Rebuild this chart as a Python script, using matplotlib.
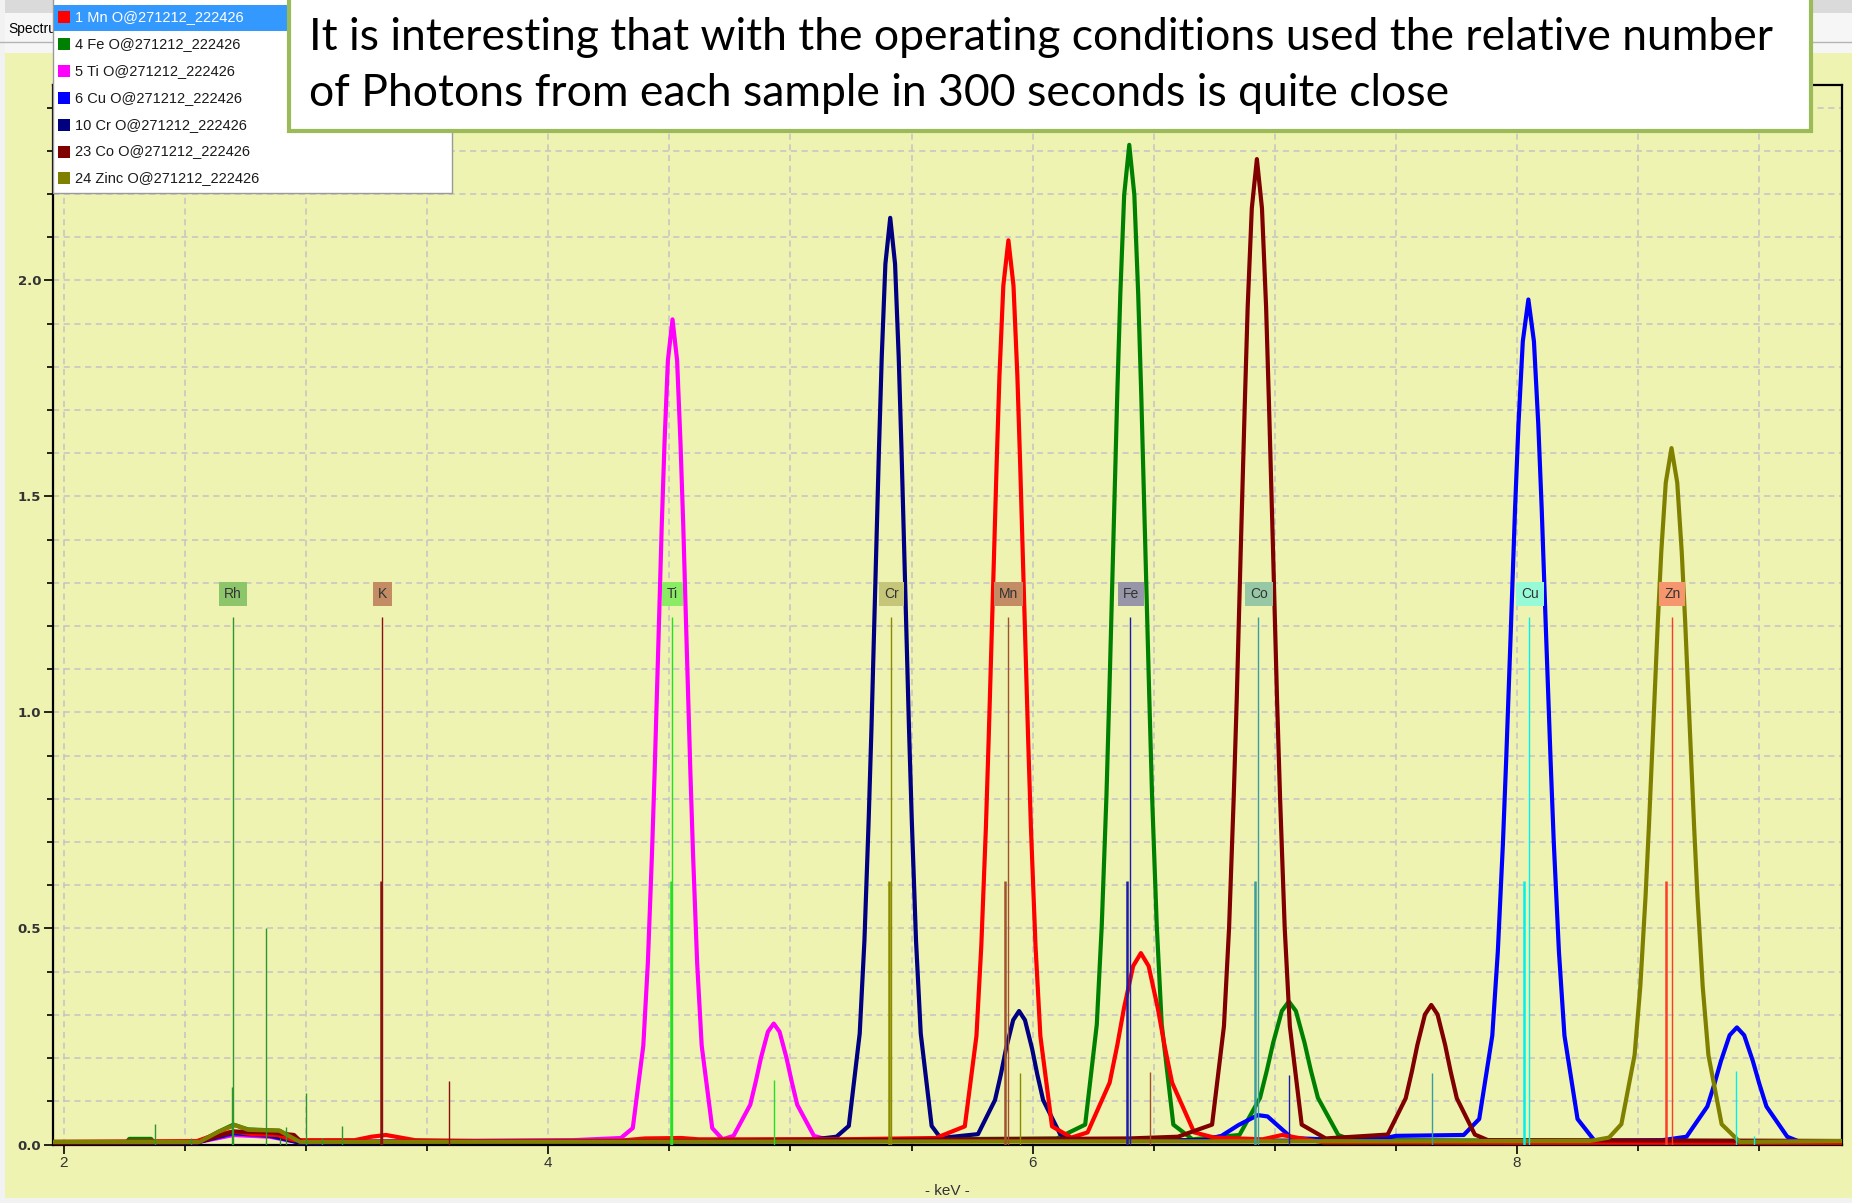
import matplotlib
matplotlib.use("Agg")
import matplotlib.pyplot as plt
from matplotlib.patches import Rectangle
from matplotlib.ticker import MultipleLocator, FormatStrFormatter

W, H = 1852, 1203

# ---- spectra (keV, counts) ----
mn_kev = [1.96, 2.55, 2.62, 2.70, 2.78, 2.88, 2.95, 3.20, 3.27, 3.33, 3.39, 3.45, 3.70, 4.30, 4.40, 4.55, 4.62, 5.20, 5.60,
          5.720, 5.768, 5.7881, 5.807, 5.8187, 5.835, 5.8512, 5.863, 5.879, 5.900,
          5.921, 5.937, 5.9488, 5.965, 5.9813, 5.993, 6.0119, 6.032, 6.080,
          6.160,
          6.227, 6.318, 6.3493, 6.377, 6.415, 6.447, 6.479, 6.517, 6.5447, 6.576, 6.667,
          6.750, 6.950, 7.030, 7.110, 7.200, 8.000, 9.340]
mn_cps = [0.006, 0.008, 0.022, 0.030, 0.024, 0.022, 0.010, 0.010, 0.018, 0.022, 0.016, 0.010, 0.008, 0.009, 0.014, 0.015, 0.012, 0.012, 0.015,
          0.042, 0.251, 0.460, 0.733, 0.942, 1.256, 1.570, 1.779, 1.988, 2.093,
          1.988, 1.779, 1.570, 1.256, 0.942, 0.733, 0.460, 0.251, 0.042,
          0.016,
          0.028, 0.143, 0.229, 0.315, 0.413, 0.443, 0.413, 0.315, 0.229, 0.143, 0.028,
          0.016, 0.012, 0.022, 0.014, 0.005, 0.004, 0.004]

fe_kev = [1.96, 2.26, 2.27, 2.36, 2.37, 2.56, 2.64, 2.70, 2.76, 2.89, 2.975, 3.50, 5.50, 6.10,
          6.217, 6.265, 6.2856, 6.305, 6.3166, 6.333, 6.3495, 6.362, 6.378, 6.399,
          6.420, 6.436, 6.4485, 6.465, 6.4814, 6.493, 6.5124, 6.533, 6.581,
          6.660,
          6.854, 6.939, 6.9674, 6.993, 7.029, 7.058, 7.087, 7.123, 7.1486, 7.178, 7.262,
          7.320, 9.340]
fe_cps = [0.006, 0.006, 0.013, 0.013, 0.006, 0.006, 0.030, 0.046, 0.035, 0.032, 0.006, 0.007, 0.012, 0.014,
          0.046, 0.278, 0.509, 0.810, 1.041, 1.388, 1.736, 1.967, 2.198, 2.314,
          2.198, 1.967, 1.736, 1.388, 1.041, 0.810, 0.509, 0.278, 0.046,
          0.012,
          0.022, 0.108, 0.172, 0.235, 0.309, 0.331, 0.309, 0.235, 0.172, 0.108, 0.022,
          0.010, 0.008]

ti_kev = [1.96, 2.55, 2.70, 2.85, 2.97, 3.50, 4.10, 4.30,
          4.349, 4.3925, 4.4112, 4.428, 4.4391, 4.454, 4.4686, 4.480, 4.494, 4.513,
          4.532, 4.546, 4.5574, 4.572, 4.5869, 4.598, 4.6148, 4.6335, 4.677,
          4.720,
          4.765, 4.834, 4.857, 4.878, 4.907, 4.931, 4.955, 4.984, 5.005, 5.028, 5.097,
          5.160, 6.00, 9.34]
ti_cps = [0.004, 0.005, 0.022, 0.018, 0.005, 0.008, 0.010, 0.015,
          0.038, 0.229, 0.420, 0.669, 0.860, 1.146, 1.433, 1.624, 1.815, 1.910,
          1.815, 1.624, 1.433, 1.146, 0.860, 0.669, 0.420, 0.229, 0.038,
          0.012,
          0.020, 0.092, 0.146, 0.200, 0.261, 0.280, 0.261, 0.200, 0.146, 0.092, 0.020,
          0.010, 0.008, 0.008]

cu_kev = [1.96, 2.55, 2.70, 2.85, 2.97, 5.50, 6.70, 6.78, 6.85, 6.93, 6.97, 7.02, 7.07, 7.20, 7.45, 7.50, 7.78,
          7.844, 7.898, 7.9208, 7.942, 7.9554, 7.974, 7.992, 8.006, 8.024, 8.047,
          8.070, 8.088, 8.102, 8.120, 8.1386, 8.152, 8.1732, 8.196, 8.250,
          8.320, 8.600,
          8.700, 8.786, 8.8156, 8.842, 8.878, 8.908, 8.938, 8.974, 9.0004, 9.030, 9.116,
          9.160, 9.340]
cu_cps = [0.004, 0.005, 0.026, 0.020, 0.005, 0.008, 0.010, 0.020, 0.045, 0.068, 0.065, 0.040, 0.015, 0.012, 0.014, 0.020, 0.022,
          0.059, 0.252, 0.446, 0.698, 0.891, 1.182, 1.472, 1.666, 1.859, 1.956,
          1.859, 1.666, 1.472, 1.182, 0.891, 0.698, 0.446, 0.252, 0.059,
          0.009, 0.010,
          0.018, 0.088, 0.141, 0.193, 0.253, 0.271, 0.253, 0.193, 0.141, 0.088, 0.018,
          0.008, 0.006]

cr_kev = [1.96, 2.55, 2.70, 2.85, 2.97, 4.50, 5.10, 5.19,
          5.241, 5.286, 5.3055, 5.323, 5.3346, 5.350, 5.3655, 5.377, 5.392, 5.412,
          5.432, 5.447, 5.4585, 5.474, 5.4894, 5.501, 5.5185, 5.538, 5.583,
          5.620,
          5.7745, 5.8447, 5.8687, 5.8899, 5.9196, 5.944, 5.9684, 5.9981, 6.0193, 6.0433, 6.1135,
          6.170, 9.34]
cr_cps = [0.004, 0.005, 0.028, 0.022, 0.005, 0.008, 0.012, 0.018,
          0.043, 0.257, 0.472, 0.751, 0.965, 1.287, 1.609, 1.823, 2.038, 2.145,
          2.038, 1.823, 1.609, 1.287, 0.965, 0.751, 0.472, 0.257, 0.043,
          0.015,
          0.024, 0.103, 0.162, 0.221, 0.288, 0.309, 0.288, 0.221, 0.162, 0.103, 0.024,
          0.010, 0.006]

co_kev = [1.96, 2.55, 2.70, 2.85, 2.95, 2.98, 4.50, 6.40, 6.60,
          6.741, 6.790, 6.8112, 6.830, 6.8426, 6.859, 6.8759, 6.888, 6.905, 6.926,
          6.947, 6.964, 6.9761, 6.993, 7.0094, 7.022, 7.0408, 7.062, 7.111,
          7.210,
          7.466, 7.5405, 7.566, 7.5885, 7.620, 7.646, 7.672, 7.7035, 7.726, 7.7515, 7.826,
          7.880, 9.34]
co_cps = [0.004, 0.005, 0.030, 0.028, 0.022, 0.006, 0.008, 0.014, 0.018,
          0.046, 0.274, 0.502, 0.798, 1.026, 1.369, 1.711, 1.939, 2.167, 2.281,
          2.167, 1.939, 1.711, 1.369, 1.026, 0.798, 0.502, 0.274, 0.046,
          0.014,
          0.023, 0.107, 0.169, 0.230, 0.301, 0.323, 0.301, 0.230, 0.169, 0.107, 0.023,
          0.010, 0.008]

zn_kev = [1.96, 2.56, 2.64, 2.707, 2.76, 2.89, 2.975, 8.30, 8.38,
          8.431, 8.4856, 8.5092, 8.5308, 8.5445, 8.5632, 8.5818, 8.5958, 8.6143, 8.638,
          8.6617, 8.6802, 8.6942, 8.7128, 8.7315, 8.7452, 8.7668, 8.7904, 8.845,
          8.920, 9.34]
zn_cps = [0.006, 0.006, 0.030, 0.045, 0.034, 0.032, 0.006, 0.008, 0.016,
          0.047, 0.207, 0.366, 0.574, 0.734, 0.973, 1.213, 1.372, 1.532, 1.612,
          1.532, 1.372, 1.213, 0.973, 0.734, 0.574, 0.366, 0.207, 0.047,
          0.006, 0.008]

legend_labels = ["1 Mn O@271212_222426", "4 Fe O@271212_222426", "5 Ti O@271212_222426",
                 "6 Cu O@271212_222426", "10 Cr O@271212_222426", "23 Co O@271212_222426",
                 "24 Zinc O@271212_222426"]

# element marker lines (keV, relative height)
marker_elem = ["Rh"] * 10 + ["K"] * 3 + ["Ti"] * 3 + ["Cr"] * 3 + ["Mn"] * 3 + ["Fe"] * 3 + ["Co"] * 3 + ["Cu"] * 4 + ["Zn"] * 2
marker_kev = [2.376, 2.524, 2.693, 2.697, 2.834, 2.891, 2.917, 3.001, 3.066, 3.149,
              3.314, 3.311, 3.590,
              4.511, 4.505, 4.933,
              5.415, 5.405, 5.946,
              5.899, 5.887, 6.486,
              6.404, 6.391, 7.058,
              6.930, 6.917, 7.649,
              8.051, 8.030, 8.906, 8.977,
              8.638, 8.615]
marker_cps = [0.047, 0.015, 0.133, 1.22, 0.50, 0.015, 0.040, 0.120, 0.015, 0.043,
              1.22, 0.61, 0.147,
              1.22, 0.61, 0.150,
              1.22, 0.61, 0.166,
              1.22, 0.61, 0.167,
              1.22, 0.61, 0.162,
              1.22, 0.61, 0.166,
              1.22, 0.61, 0.170, 0.020,
              1.22, 0.61]
label_elem = ["Rh", "K", "Ti", "Cr", "Mn", "Fe", "Co", "Cu", "Zn"]
label_kev = [2.698, 3.316, 4.514, 5.418, 5.901, 6.407, 6.934, 8.053, 8.642]

# ---- styles ----
YELLOW = "#EFF3B2"
series_colors = ["#FF0000", "#008000", "#FF00FF", "#0000FF", "#000080", "#800000", "#808000"]
line_colors = {"Rh": "#2E962E", "K": "#8B1010", "Ti": "#22E022", "Cr": "#8B8B00", "Mn": "#A0522D",
               "Fe": "#1C1CA8", "Co": "#3A9E9E", "Cu": "#00F0F0", "Zn": "#FF3A2A"}
box_colors = {"Rh": "#8CC56A", "K": "#C38C64", "Ti": "#8CEB64", "Cr": "#C6C67A", "Mn": "#C38C64",
              "Fe": "#9696A8", "Co": "#96C8A5", "Cu": "#96FAD7", "Zn": "#F5966E"}
UI = "Liberation Sans"

fig = plt.figure(figsize=(W / 100, H / 100), dpi=100, facecolor=YELLOW)

# window chrome behind the chart
bg = fig.add_axes([0, 0, 1, 1], zorder=-5)
bg.set_xlim(0, W)
bg.set_ylim(H, 0)
bg.axis("off")
bg.add_patch(Rectangle((0, 0), W, 53, fc="#F6F6F6", ec="none"))
bg.add_patch(Rectangle((0, 0), W, 13, fc="#DADADA", ec="none"))
bg.plot([0, W], [42, 42], color="#B4B4B4", lw=1)
bg.add_patch(Rectangle((0, 0), 5, H, fc="#F2F2F2", ec="none"))
bg.add_patch(Rectangle((0, H - 5), W, 5, fc="#F2F2F2", ec="none"))

ax = fig.add_axes([53 / W, 1 - 1144.5 / H, (1842 - 53) / W, (1144.5 - 85) / H])
ax.set_facecolor(YELLOW)

spectra = [(fe_kev, fe_cps, 1), (ti_kev, ti_cps, 2), (cu_kev, cu_cps, 3), (cr_kev, cr_cps, 4),
           (mn_kev, mn_cps, 0), (co_kev, co_cps, 5), (zn_kev, zn_cps, 6)]
for kev, cps, i in spectra:
    ax.plot(kev, cps, color=series_colors[i], lw=3.0, zorder=3)

for e, k, c in zip(marker_elem, marker_kev, marker_cps):
    lw = 1.8 if 0.55 < c < 1.0 else 1.0
    ax.vlines(k, 0, c, color=line_colors[e], lw=lw, zorder=4)

for e, k in zip(label_elem, label_kev):
    ax.text(k, 1.274, e, ha="center", va="center", fontsize=10, family=UI, color="#333333",
            bbox=dict(boxstyle="square,pad=0.35", fc=box_colors[e], ec="none"), zorder=5)

ax.set_xlim(1.955, 9.342)
ax.set_ylim(0, 2.4525)
ax.xaxis.set_major_locator(MultipleLocator(2))
ax.xaxis.set_minor_locator(MultipleLocator(0.5))
ax.yaxis.set_major_locator(MultipleLocator(0.5))
ax.yaxis.set_minor_locator(MultipleLocator(0.1))
ax.xaxis.set_major_formatter(FormatStrFormatter("%d"))
ax.yaxis.set_major_formatter(FormatStrFormatter("%.1f"))
ax.grid(which="both", axis="both", color="#C3C3C3", ls=(0, (4, 3)), lw=1.1, zorder=0)
ax.set_axisbelow(True)
ax.tick_params(which="major", length=6.5, width=1.2, color="black", labelcolor="#333333", pad=2)
ax.tick_params(which="minor", length=4.5, width=1.2, color="black")
for lab in ax.get_yticklabels():
    lab.set_fontsize(9.5)
    lab.set_fontweight("bold")
for lab in ax.get_xticklabels():
    lab.set_fontsize(11)
    lab.set_family(UI)
for s in ax.spines.values():
    s.set_linewidth(1.6)
    s.set_color("black")

# overlays: legend list and the annotation box
ov = fig.add_axes([0, 0, 1, 1], zorder=10)
ov.set_xlim(0, W)
ov.set_ylim(H, 0)
ov.axis("off")
ov.patch.set_alpha(0)

ov.text(8, 29, "Spectrum", fontsize=10, family=UI, va="center", ha="left", color="black", zorder=0.5)
ov.add_patch(Rectangle((53, -2), 399, 195, fc="white", ec="#9A9A9A", lw=1, zorder=1))
ov.add_patch(Rectangle((54, 5), 233, 26, fc="#3399FF", ec="none", zorder=1.5))
for i, lab in enumerate(legend_labels):
    yc = 17 + i * 26.9
    ov.add_patch(Rectangle((58, yc - 6), 12, 12, fc=series_colors[i], ec="none", zorder=2))
    ov.text(75, yc, lab, fontsize=10.5, family=UI, va="center", ha="left",
            color="white" if i == 0 else "#1A1A1A", zorder=3)

ov.add_patch(Rectangle((289, -10), 1522, 141, fc="white", ec="#9BBB59", lw=3, zorder=4))
ov.text(309, 38, "It is interesting that with the operating conditions used the relative number",
        fontsize=32, family="Lato", va="center", ha="left", color="black", zorder=5)
ov.text(309, 94, "of Photons from each sample in 300 seconds is quite close",
        fontsize=32, family="Lato", va="center", ha="left", color="black", zorder=5)

fig.text(947 / W, 1 - 1191 / H, "- keV -", fontsize=11, family=UI, ha="center", va="center", color="#333333")

fig.savefig("out.png", dpi=100, facecolor=YELLOW)
